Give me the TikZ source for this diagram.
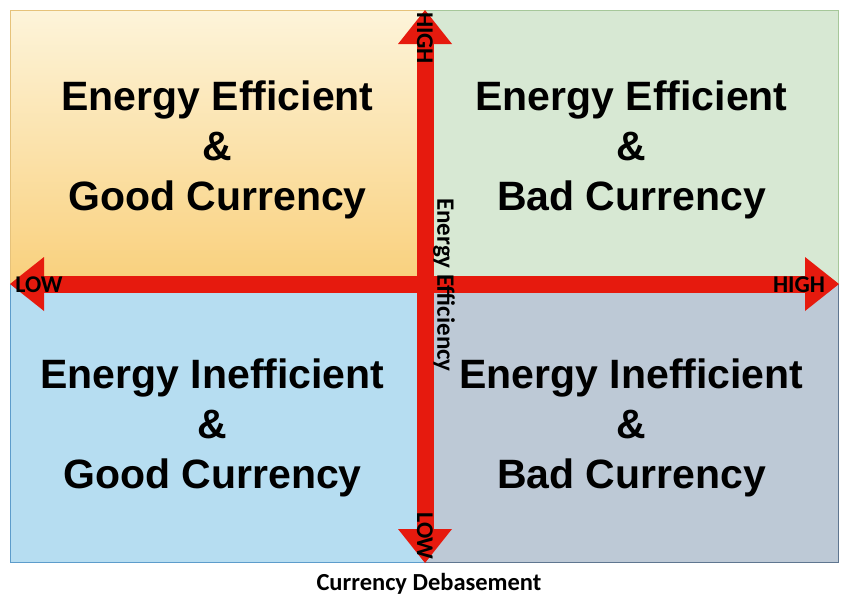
\documentclass[tikz,border=0pt]{standalone}
\usepackage{fontspec}
\setmainfont{Liberation Sans}
\newfontfamily\calibri{Carlito}
\usetikzlibrary{arrows.meta}

\definecolor{tlTop}{HTML}{FDF4DA}
\definecolor{tlBot}{HTML}{F9D07C}
\definecolor{tlLine}{HTML}{E6C27A}
\definecolor{trFill}{HTML}{D7E8D3}
\definecolor{trLine}{HTML}{A6C79A}
\definecolor{blFill}{HTML}{B6DDF1}
\definecolor{blLine}{HTML}{5D9CCB}
\definecolor{brFill}{HTML}{BDC9D6}
\definecolor{brLine}{HTML}{5F7690}
\definecolor{arrowred}{HTML}{E61A0E}

\begin{document}
\begin{tikzpicture}[x=1pt, y=-1pt,
    quad/.style={rectangle, draw, inner sep=0pt},
    quadtext/.style={align=center, inner sep=0pt,
        font=\fontsize{41}{50}\selectfont\bfseries},
    axisarrow/.style={line width=17pt, draw=arrowred,
        {Triangle[length=34pt, width=54pt, line width=0pt]}-{Triangle[length=34pt, width=54pt, line width=0pt]}},
    axislabel/.style={font=\calibri\bfseries\fontsize{24}{24}\selectfont, inner sep=0pt}]
    \useasboundingbox (0,0) rectangle (848,608);

    % Quadrants
    \node[quad, minimum width=415pt, minimum height=274pt, draw=tlLine,
        top color=tlTop, bottom color=tlBot] (goodEff) at (217.5,147) {};
    \node[quad, minimum width=413pt, minimum height=274pt, draw=trLine,
        fill=trFill] (badEff) at (631.5,147) {};
    \node[quad, minimum width=415pt, minimum height=278pt, draw=blLine,
        fill=blFill] (goodIneff) at (217.5,423) {};
    \node[quad, minimum width=413pt, minimum height=278pt, draw=brLine,
        fill=brFill] (badIneff) at (631.5,423) {};

    % Quadrant texts
    \node[quadtext] (goodEffText) at ([yshift=-3pt]goodEff.center)
        {Energy Efficient\\\&\\Good Currency};
    \node[quadtext] (badEffText) at ([yshift=-3pt]badEff.center)
        {Energy Efficient\\\&\\Bad Currency};
    \node[quadtext] (goodIneffText) at ([xshift=-5pt, yshift=-5pt]goodIneff.center)
        {Energy Inefficient\\\&\\Good Currency};
    \node[quadtext] (badIneffText) at ([yshift=-5pt]badIneff.center)
        {Energy Inefficient\\\&\\Bad Currency};

    % Axis ends
    \coordinate (xLow) at (10,284);
    \coordinate (xHigh) at (839,284);
    \coordinate (yHigh) at (425,10);
    \coordinate (yLow) at (425,563);

    % Draw the two axes
    \draw[axisarrow] (xLow) -- (xHigh);
    \draw[axisarrow] (yLow) -- (yHigh);

    % Axis labels
    \node[axislabel] (lowX) at (39,285) {LOW};
    \node[axislabel] (highX) at (799,285) {HIGH};
    \node[axislabel, rotate=-90] (highY) at (425,38) {HIGH};
    \node[axislabel, rotate=-90] (lowY) at (425,536) {LOW};

    % Axis titles
    \node[axislabel, font=\calibri\bfseries\fontsize{25}{25}\selectfont, rotate=-90]
        (effTitle) at (444,285) {Energy Efficiency};
    \node[axislabel, font=\calibri\bfseries\fontsize{24.5}{24.5}\selectfont]
        (curTitle) at (429,584) {Currency Debasement};
\end{tikzpicture}
\end{document}
